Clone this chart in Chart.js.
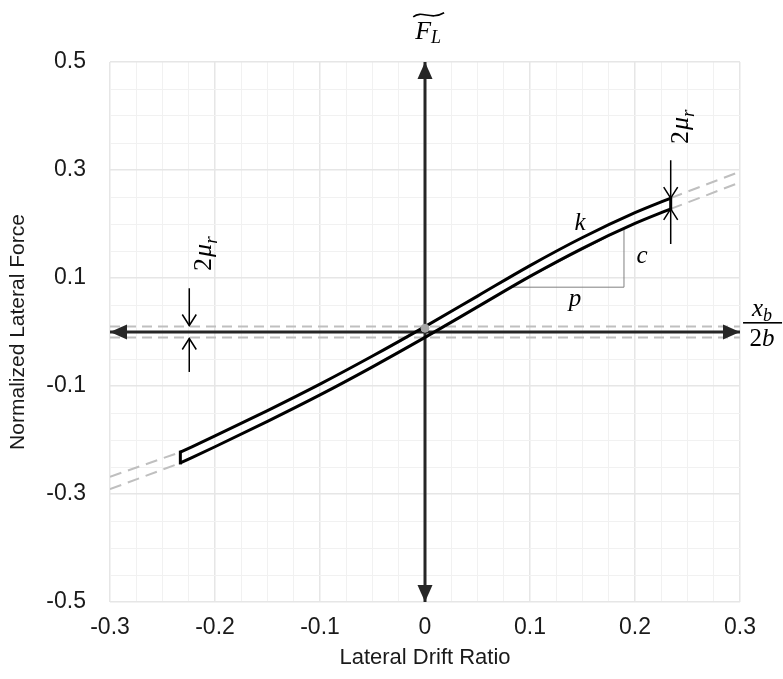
<!DOCTYPE html>
<html>
<head>
<meta charset="utf-8">
<script src="https://cdn.jsdelivr.net/npm/chart.js@4.4.1/dist/chart.umd.min.js"></script>
<style>
  html, body { margin: 0; padding: 0; background: #ffffff; }
  #c { display: block; }
</style>
</head>
<body>
<canvas id="c" width="783" height="679"></canvas>
<script>
// Axis ranges and labelled ticks
const driftRange = [-0.3, 0.3];
const forceRange = [-0.5, 0.5];
const driftTickLabels = [-0.3, -0.2, -0.1, 0, 0.1, 0.2, 0.3];
const forceTickLabels = [-0.5, -0.3, -0.1, 0.1, 0.3, 0.5];

// Hysteresis loop: loading (upper) and unloading (lower) branches
const loopDrift  = [-0.233, -0.2, -0.15, -0.1, -0.05, 0, 0.05, 0.1, 0.15, 0.2, 0.234];
const upperForce = [-0.2225, -0.1925, -0.1455, -0.0965, -0.0445, 0.01, 0.0665, 0.123, 0.175, 0.221, 0.248];
const lowerForce = [-0.2425, -0.2125, -0.1655, -0.1165, -0.0645, -0.01, 0.0465, 0.103, 0.155, 0.201, 0.228];

// Friction band half-width
const muR = 0.01;

// Dashed continuation of the branches beyond the loop ends
const extLeftDrift   = [-0.3, -0.233];
const extLeftUpper   = [-0.268, -0.2225];
const extLeftLower   = [-0.291, -0.2425];
const extRightDrift  = [0.234, 0.3];
const extRightUpper  = [0.248, 0.297];
const extRightLower  = [0.228, 0.277];

// Slope triangle (p horizontal, c vertical)
const slopeDrift = [0.081, 0.1895];
const slopeForce = [0.083, 0.192];

// Dimension arrows for 2μr
const rightDimDrift = 0.234;
const rightDimTop = [0.318, 0.248];
const rightDimBottom = [0.163, 0.228];
const leftDimDrift = -0.2245;
const leftDimTop = [0.081, 0.012];
const leftDimBottom = [-0.074, -0.012];

// Origin marker
const originMark = [0, 0.007];

const AXIS_DARK = '#262626';
const DASH_GREY = '#bfbfbf';
const SANS = "'Liberation Sans Narrow', 'Liberation Sans', Arial, sans-serif";
const SERIF = "'Liberation Serif', 'DejaVu Serif', serif";

const pts = (xs, ys) => xs.map((x, i) => ({ x, y: ys[i] }));
const vpts = (x, ys) => ys.map(y => ({ x, y }));

const line = (data, extra) => Object.assign({
  type: 'scatter', data, showLine: true, pointRadius: 0, pointHoverRadius: 0,
  fill: false, tension: 0
}, extra);

const last = loopDrift.length - 1;

const datasets = [
  // loop branches (smooth) and the two end caps joining them
  line(pts(loopDrift, upperForce), { borderColor: '#000000', borderWidth: 3, cubicInterpolationMode: 'monotone', order: 2 }),
  line(pts(loopDrift, lowerForce), { borderColor: '#000000', borderWidth: 3, cubicInterpolationMode: 'monotone', order: 2 }),
  line([{ x: loopDrift[0], y: lowerForce[0] }, { x: loopDrift[0], y: upperForce[0] }],
       { borderColor: '#000000', borderWidth: 3, borderCapStyle: 'square', order: 2 }),
  line([{ x: loopDrift[last], y: lowerForce[last] }, { x: loopDrift[last], y: upperForce[last] }],
       { borderColor: '#000000', borderWidth: 3, borderCapStyle: 'square', order: 2 }),
  // axes with arrow heads
  line([{ x: driftRange[0], y: 0 }, { x: driftRange[1], y: 0 }],
       { borderColor: AXIS_DARK, borderWidth: 3, arrowHead: 'filled', arrowEnds: ['start', 'end'], order: 4 }),
  line([{ x: 0, y: forceRange[0] }, { x: 0, y: forceRange[1] }],
       { borderColor: AXIS_DARK, borderWidth: 3, arrowHead: 'filled', arrowEnds: ['start', 'end'], order: 4 }),
  // friction band
  line([{ x: driftRange[0], y: muR }, { x: driftRange[1], y: muR }],
       { borderColor: DASH_GREY, borderWidth: 2, borderDash: [10, 6], order: 6 }),
  line([{ x: driftRange[0], y: -muR }, { x: driftRange[1], y: -muR }],
       { borderColor: DASH_GREY, borderWidth: 2, borderDash: [10, 6], order: 6 }),
  // continuation of the branches
  line(pts(extLeftDrift, extLeftUpper), { borderColor: DASH_GREY, borderWidth: 2, borderDash: [12, 7], order: 6 }),
  line(pts(extLeftDrift, extLeftLower), { borderColor: DASH_GREY, borderWidth: 2, borderDash: [12, 7], order: 6 }),
  line(pts(extRightDrift, extRightUpper), { borderColor: DASH_GREY, borderWidth: 2, borderDash: [12, 7], order: 6 }),
  line(pts(extRightDrift, extRightLower), { borderColor: DASH_GREY, borderWidth: 2, borderDash: [12, 7], order: 6 }),
  // slope triangle
  line([{ x: slopeDrift[0], y: slopeForce[0] }, { x: slopeDrift[1], y: slopeForce[0] },
        { x: slopeDrift[1], y: slopeForce[1] }, { x: slopeDrift[0], y: slopeForce[0] }],
       { borderColor: '#808080', borderWidth: 1, order: 3 }),
  // 2μr dimension arrows
  line(vpts(rightDimDrift, rightDimTop), { borderColor: '#000000', borderWidth: 1.5, arrowHead: 'open', order: 1 }),
  line(vpts(rightDimDrift, rightDimBottom), { borderColor: '#000000', borderWidth: 1.5, arrowHead: 'open', order: 1 }),
  line(vpts(leftDimDrift, leftDimTop), { borderColor: '#000000', borderWidth: 1.5, arrowHead: 'open', order: 1 }),
  line(vpts(leftDimDrift, leftDimBottom), { borderColor: '#000000', borderWidth: 1.5, arrowHead: 'open', order: 1 }),
  {
    type: 'scatter', data: [{ x: originMark[0], y: originMark[1] }], pointRadius: 4,
    pointBackgroundColor: '#a6a6a6', pointBorderColor: '#a6a6a6', showLine: false, order: 0
  }
];

// Arrow heads at the ends of flagged line datasets
const arrowHeads = {
  id: 'arrowHeads',
  afterDatasetsDraw(chart) {
    const ctx = chart.ctx;
    chart.data.datasets.forEach((ds, i) => {
      if (!ds.arrowHead) return;
      const el = chart.getDatasetMeta(i).data;
      (ds.arrowEnds || ['end']).forEach(which => {
        const a = which === 'end' ? el[el.length - 1] : el[0];
        const b = which === 'end' ? el[el.length - 2] : el[1];
        const ang = Math.atan2(a.y - b.y, a.x - b.x);
        ctx.save();
        ctx.translate(a.x, a.y);
        ctx.rotate(ang);
        ctx.beginPath();
        if (ds.arrowHead === 'filled') {
          ctx.moveTo(0, 0); ctx.lineTo(-17, -7.5); ctx.lineTo(-17, 7.5); ctx.closePath();
          ctx.fillStyle = ds.borderColor; ctx.fill();
        } else {
          ctx.moveTo(-11, -7); ctx.lineTo(0, 0); ctx.lineTo(-11, 7);
          ctx.strokeStyle = ds.borderColor; ctx.lineWidth = 1.5; ctx.stroke();
        }
        ctx.restore();
      });
    });
  }
};

// Label positions in data units
const labelK = [0.1476, 0.189];
const labelC = [0.2067, 0.1278];
const labelP = [0.1429, 0.048];
const labelMuRight = [0.2505, 0.38];
const labelMuLeft = [-0.2038, 0.145];
const labelForceAxis = [0.003, 0.543];
const labelDriftAxis = [0.321, 0];

function runsWidth(ctx, runs) {
  return runs.reduce((w, r) => { ctx.font = r.font; return w + ctx.measureText(r.t).width + (r.gap || 0); }, 0);
}
function drawRuns(ctx, runs, cx, y) {
  let x = cx - runsWidth(ctx, runs) / 2;
  runs.forEach(r => {
    ctx.font = r.font;
    ctx.fillText(r.t, x, y + (r.dy || 0));
    x += ctx.measureText(r.t).width + (r.gap || 0);
  });
}

const mathLabels = {
  id: 'mathLabels',
  afterDraw(chart) {
    const ctx = chart.ctx, xs = chart.scales.x, ys = chart.scales.y;
    const px = p => [xs.getPixelForValue(p[0]), ys.getPixelForValue(p[1])];
    ctx.save();
    ctx.fillStyle = '#000000';
    ctx.textBaseline = 'alphabetic';
    ctx.textAlign = 'left';

    const it = 'italic 25px ' + SERIF;
    [[labelK, 'k'], [labelC, 'c'], [labelP, 'p']].forEach(([p, t]) => {
      const [x, y] = px(p);
      drawRuns(ctx, [{ t, font: it }], x, y);
    });

    // 2μr dimension labels, written bottom to top
    const mu = [
      { t: '2', font: '26px ' + SERIF, gap: 1 },
      { t: 'μ', font: 'italic 26px ' + SERIF },
      { t: 'r', font: 'italic 19px ' + SERIF, dy: 6 }
    ];
    [labelMuRight, labelMuLeft].forEach(p => {
      const [x, y] = px(p);
      ctx.save();
      ctx.translate(x, y);
      ctx.rotate(-Math.PI / 2);
      drawRuns(ctx, mu, 0, 0);
      ctx.restore();
    });

    // F_L with wide tilde above the vertical axis
    {
      const [x, y] = px(labelForceAxis);
      const runs = [
        { t: 'F', font: 'italic 26px ' + SERIF, gap: 0 },
        { t: 'L', font: 'italic 18px ' + SERIF, dy: 4 }
      ];
      drawRuns(ctx, runs, x, y);
      const w = runsWidth(ctx, runs);
      const x0 = x - w / 2 - 2, x1 = x + w / 2 + 3, ty = y - 24;
      ctx.beginPath();
      ctx.moveTo(x0, ty + 2);
      ctx.bezierCurveTo(x0 + (x1 - x0) * 0.3, ty - 5, x0 + (x1 - x0) * 0.55, ty + 6, x1, ty - 2);
      ctx.lineWidth = 1.6;
      ctx.strokeStyle = '#000000';
      ctx.stroke();
    }

    // x_b / 2b at the end of the horizontal axis
    {
      const [x, y] = px(labelDriftAxis);
      drawRuns(ctx, [
        { t: 'x', font: 'italic 25px ' + SERIF },
        { t: 'b', font: 'italic 18px ' + SERIF, dy: 5 }
      ], x, y - 16);
      ctx.fillRect(x - 19, y - 10, 39, 1.6);
      drawRuns(ctx, [
        { t: '2', font: '25px ' + SERIF },
        { t: 'b', font: 'italic 25px ' + SERIF }
      ], x, y + 14);
    }
    ctx.restore();
  }
};

const near = (a, b) => Math.abs(a - b) < 1e-6;
const isDriftMajor = v => driftTickLabels.some(t => near(t, v));
const isForceMajor = v => forceTickLabels.some(t => near(t, v));
const fmt = v => (near(v, 0) ? '0' : v.toFixed(1));

new Chart(document.getElementById('c'), {
  type: 'scatter',
  data: { datasets },
  options: {
    responsive: false,
    devicePixelRatio: 1,
    animation: false,
    events: [],
    layout: { padding: { left: 0, right: 43, top: 62, bottom: 0 } },
    plugins: { legend: { display: false }, tooltip: { enabled: false } },
    scales: {
      x: {
        type: 'linear',
        min: driftRange[0], max: driftRange[1],
        afterFit: s => { s.height = 77; },
        border: { display: false },
        grid: {
          drawTicks: false,
          color: c => (isDriftMajor(c.tick.value) ? '#e6e6e6' : '#f1f1f1'),
          lineWidth: c => (isDriftMajor(c.tick.value) ? 1.5 : 1)
        },
        ticks: {
          stepSize: 0.025, maxTicksLimit: 200, autoSkip: false, maxRotation: 0,
          padding: 12, color: '#1a1a1a',
          font: { family: SANS, size: 23 },
          callback: v => (isDriftMajor(v) ? fmt(v) : '')
        },
        title: {
          display: true, text: 'Lateral Drift Ratio', color: '#1a1a1a',
          font: { family: SANS, size: 22 }, padding: { top: 0, bottom: 8 }
        }
      },
      y: {
        type: 'linear',
        min: forceRange[0], max: forceRange[1],
        afterFit: s => { s.width = 110; },
        border: { display: false },
        grid: {
          drawTicks: false,
          color: c => (isForceMajor(c.tick.value) ? '#e6e6e6' : '#f1f1f1'),
          lineWidth: c => (isForceMajor(c.tick.value) ? 1.5 : 1)
        },
        ticks: {
          stepSize: 0.05, maxTicksLimit: 200, autoSkip: false,
          padding: 24, color: '#1a1a1a',
          font: { family: SANS, size: 23 },
          callback: v => (isForceMajor(v) ? fmt(v) : '')
        },
        title: {
          display: true, text: 'Normalized Lateral Force', color: '#1a1a1a',
          font: { family: SANS, size: 21 }, padding: { top: 6, bottom: 0 }
        }
      }
    }
  },
  plugins: [arrowHeads, mathLabels]
});
</script>
</body>
</html>
